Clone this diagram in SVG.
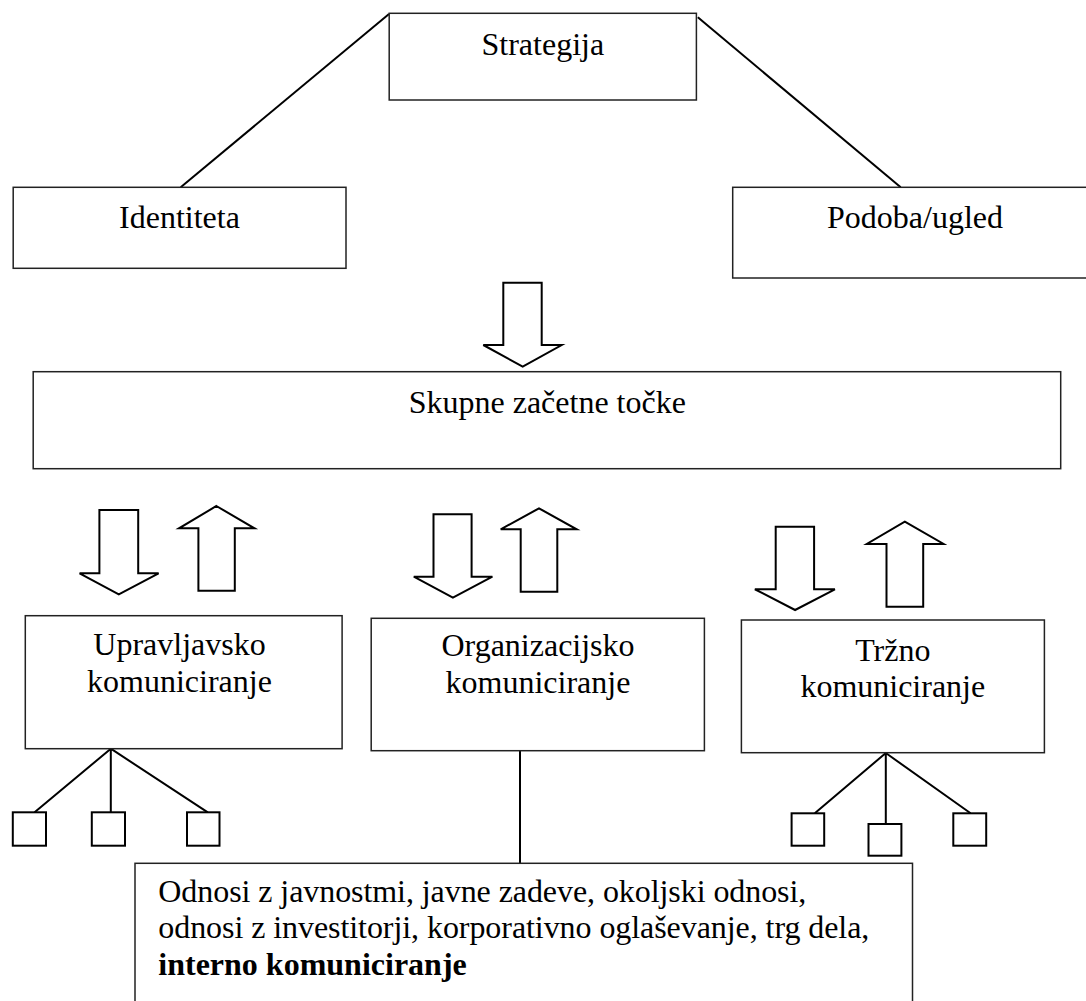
<svg xmlns="http://www.w3.org/2000/svg" width="1086" height="1001" viewBox="0 0 1086 1001">
<style>
.box{fill:#fff;stroke:#222;stroke-width:1.5}
.sq{fill:#fff;stroke:#000;stroke-width:2}
.ln{fill:none;stroke:#000;stroke-width:2}
.arr{fill:#fff;stroke:#000;stroke-width:2;stroke-linejoin:miter}
text{font-family:"Liberation Serif","Times New Roman",serif;font-size:32px;fill:#000}
.c{text-anchor:middle}
.b{font-weight:bold}
</style>
<rect width="1086" height="1001" fill="#fff"/>
<g id="connectors">
<line class="ln" x1="389" y1="14" x2="180.7" y2="187.3"/>
<line class="ln" x1="697.8" y1="17.3" x2="900.7" y2="187.3"/>
<polygon class="arr" points="503.3,282.7 541.7,282.7 541.7,345 561.7,345 522.7,366.7 483.3,345 503.3,345"/>
<polygon class="arr" points="99.4,510 138.2,510 138.2,573.3 158.6,573.3 118.8,594.3 79.6,573.3 99.4,573.3"/>
<polygon class="arr" points="216.4,506 254.5,528.3 234.8,528.3 234.8,590.7 198.4,590.7 198.4,528.3 179,528.3"/>
<polygon class="arr" points="433.5,514.3 471.6,514.3 471.6,576.7 492.4,576.7 452.9,597.7 413.8,576.7 433.5,576.7"/>
<polygon class="arr" points="539,508.3 576.7,529.3 557.3,529.3 557.3,591.7 520.7,591.7 520.7,529.3 500.7,529.3"/>
<polygon class="arr" points="775.7,526.7 814.1,526.7 814.1,589.3 834.9,589.3 795.1,610 754.9,589.3 775.7,589.3"/>
<polygon class="arr" points="904.8,521.7 943.6,544 923.2,544 923.2,606.7 886.5,606.7 886.5,544 866.8,544"/>
<path class="ln" d="M110.8,748.7 L34.6,812.3 M110.8,748.7 L110.8,812.3 M110.8,748.7 L207.8,812.3"/>
<line class="ln" x1="520" y1="751" x2="520" y2="863.3"/>
<path class="ln" d="M885.8,753 L814.8,813.3 M885.8,753 L885.8,824 M885.8,753 L970.6,813.3"/>
</g>
<g id="strategija">
<rect class="box" x="389.2" y="13.3" width="307.2" height="86.7"/>
<text class="c" x="542.8" y="55">Strategija</text>
</g>
<g id="identiteta">
<rect class="box" x="13.2" y="187.3" width="332.8" height="81"/>
<text class="c" x="179.5" y="228.3">Identiteta</text>
</g>
<g id="podoba">
<rect class="box" x="732.7" y="187.3" width="364" height="90.7"/>
<text class="c" x="915" y="228.3">Podoba/ugled</text>
</g>
<g id="skupne">
<rect class="box" x="33.2" y="371.7" width="1027.5" height="97"/>
<text class="c" x="547.3" y="413">Skupne začetne točke</text>
</g>
<g id="upravljavsko">
<rect class="box" x="25.3" y="615.7" width="316.8" height="133"/>
<text class="c" x="179.5" y="655">Upravljavsko</text>
<text class="c" x="179.5" y="692">komuniciranje</text>
</g>
<g id="organizacijsko">
<rect class="box" x="371.2" y="618.3" width="333.2" height="132.4"/>
<text class="c" x="538" y="656">Organizacijsko</text>
<text class="c" x="538" y="693">komuniciranje</text>
</g>
<g id="trzno">
<rect class="box" x="741.4" y="620" width="303" height="132.7"/>
<text class="c" x="892.8" y="661">Tržno</text>
<text class="c" x="892.8" y="697">komuniciranje</text>
</g>
<g id="upr-sub">
<rect class="sq" x="12.8" y="812.3" width="33.2" height="33.4"/>
<rect class="sq" x="91.8" y="812.3" width="33.2" height="33.4"/>
<rect class="sq" x="187" y="812.3" width="32.5" height="33.4"/>
</g>
<g id="trz-sub">
<rect class="sq" x="791.6" y="813.3" width="32.6" height="32.4"/>
<rect class="sq" x="868.5" y="824" width="32.9" height="31.7"/>
<rect class="sq" x="953.3" y="813.3" width="32.9" height="32.4"/>
</g>
<g id="odnosi">
<rect class="box" x="135" y="863.3" width="777.5" height="160"/>
<text x="158.3" y="901.5" textLength="648" lengthAdjust="spacing">Odnosi z javnostmi, javne zadeve, okoljski odnosi,</text>
<text x="158.3" y="938.3" textLength="711" lengthAdjust="spacing">odnosi z investitorji, korporativno oglaševanje, trg dela,</text>
<text class="b" x="158.3" y="975">interno komuniciranje</text>
</g>
</svg>
